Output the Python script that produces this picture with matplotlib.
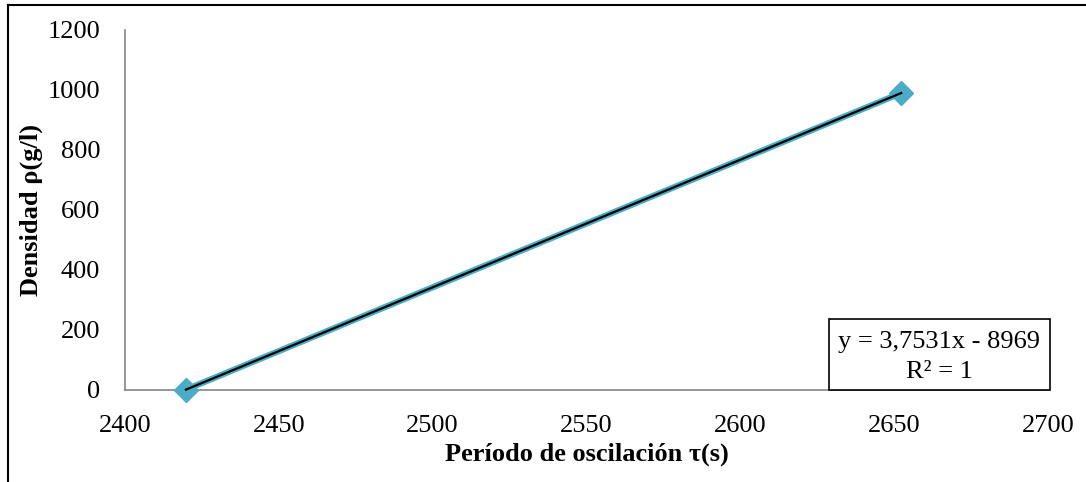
import numpy as np
import matplotlib.pyplot as plt
from matplotlib.lines import Line2D
from matplotlib.patches import Rectangle

plt.rcParams['font.family'] = ['Liberation Serif', 'DejaVu Serif']

# Data
periodo = [2419.8, 2652.3]      # tau (s)
densidad = [1.2, 990.0]         # rho (g/l)
xticks = [2400, 2450, 2500, 2550, 2600, 2650, 2700]
yticks = [0, 200, 400, 600, 800, 1000, 1200]
eq_text = 'y = 3,7531x - 8969'
r2_text = 'R² = 1'

CYAN = '#4BACC6'
GRAY = '#868686'
FS = 19

fig = plt.figure(figsize=(10.86, 4.82), dpi=100)
ax = fig.add_axes([125/1086, 1 - 390/482, 923/1086, 360/482])

# series line + markers
ax.plot(periodo, densidad, color=CYAN, linewidth=4.5, marker='D',
        markersize=12, markerfacecolor=CYAN, markeredgecolor=CYAN,
        zorder=3, clip_on=False)

# linear trendline
coef = np.polyfit(periodo, densidad, 1)
xt = np.array(periodo)
ax.plot(xt, np.polyval(coef, xt), color='black', linewidth=1.6, zorder=4,
        clip_on=False)

ax.set_xlim(2400, 2700)
ax.set_ylim(0, 1200)
ax.set_xticks(xticks)
ax.set_yticks(yticks)
ax.tick_params(axis='both', length=0, labelsize=FS, colors='black')
ax.tick_params(axis='x', pad=18)
ax.tick_params(axis='y', pad=18)

for side in ['top', 'right']:
    ax.spines[side].set_visible(False)
for side in ['left', 'bottom']:
    ax.spines[side].set_color(GRAY)
    ax.spines[side].set_linewidth(1.2)
    ax.spines[side].set_zorder(1)

ax.set_xlabel('Período de oscilación τ(s)', fontsize=FS, fontweight='bold', labelpad=4)
ax.set_ylabel('Densidad ρ(g/l)', fontsize=FS, fontweight='bold', labelpad=3)

# equation box
box = Rectangle((0.7627, 0.0), 0.2395, 0.197, transform=ax.transAxes,
                facecolor='white', edgecolor='black', linewidth=1.2,
                clip_on=False, zorder=5)
ax.add_patch(box)
ax.text(0.882, 0.133, eq_text, transform=ax.transAxes, ha='center', va='center',
        fontsize=FS, zorder=6)
ax.text(0.882, 0.05, r2_text, transform=ax.transAxes, ha='center', va='center',
        fontsize=FS, zorder=6)

# chart area border (left and top visible)
fig.add_artist(Line2D([8/1086, 8/1086], [0, 1 - 5/482], color='black', linewidth=1.5))
fig.add_artist(Line2D([8/1086, 1], [1 - 5/482, 1 - 5/482], color='black', linewidth=1.5))

fig.savefig('out.png', dpi=100)
